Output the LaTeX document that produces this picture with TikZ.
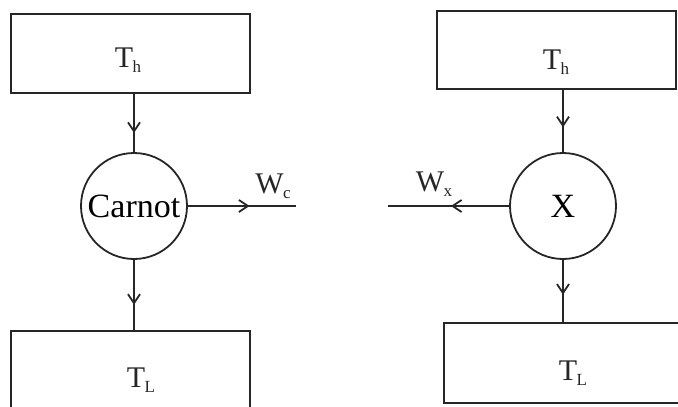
\documentclass[tikz,border=0pt]{standalone}
\usepackage{fontspec}
\setmainfont{Liberation Serif}
\usetikzlibrary{arrows.meta,decorations.markings}
\newcommand{\lowsub}[1]{\kern-0.5pt\raisebox{-5pt}{\fontsize{17}{17}\selectfont #1}}
\begin{document}
\begin{tikzpicture}[x=1pt,y=-1pt,
  box/.style={draw=black!85,line width=2pt,minimum width=239pt,inner sep=0pt},
  eng/.style={draw=black!85,circle,line width=1.8pt,minimum size=106pt,inner sep=0pt},
  lbl/.style={font=\fontsize{30}{32}\selectfont,text=black!85},
  conn/.style={draw=black!85,line width=2pt,postaction={decorate},
    decoration={markings,mark=at position #1 with {\arrow[black!85]{Straight Barb[length=9pt,width=12pt,line width=1.8pt]}}}},
  conn/.default=0.6]
\useasboundingbox (0,0) rectangle (678,407);
% left
\node[box,minimum height=79pt] (Th1) at (130.5,53.5) {};
\node[lbl] (Th1t) at (128,60) {T\lowsub{h}};
\node[eng] (C1) at (134,206) {\fontsize{34}{36}\selectfont Carnot};
\node[box,minimum height=110pt] (TL1) at (130.5,386) {};
\node[lbl] (TL1t) at (141,380) {T\lowsub{L}};
\coordinate (W1) at (296,206);
\node[lbl] (Wc) at (273,186) {W\lowsub{c}};
\draw[conn=0.67] (Th1.south -| C1) -- (C1.north);
\draw[conn=0.64] (C1.south) -- (TL1.north -| C1);
\draw[conn=0.57] (C1.east) -- (W1);
% right
\node[box,minimum height=78pt] (Th2) at (556.5,50) {};
\node[lbl] (Th2t) at (556,62) {T\lowsub{h}};
\node[eng] (C2) at (563,206) {\fontsize{34}{36}\selectfont X};
\node[box,minimum height=80pt,minimum width=250pt] (TL2) at (569,363) {};
\node[lbl] (TL2t) at (573,373) {T\lowsub{L}};
\coordinate (W2) at (388,206);
\node[lbl] (Wx) at (434,184) {W\lowsub{x}};
\draw[conn=0.6] (Th2.south -| C2) -- (C2.north);
\draw[conn=0.56] (C2.south) -- (TL2.north -| C2);
\draw[conn=0.48] (C2.west) -- (W2);
\end{tikzpicture}
\end{document}
